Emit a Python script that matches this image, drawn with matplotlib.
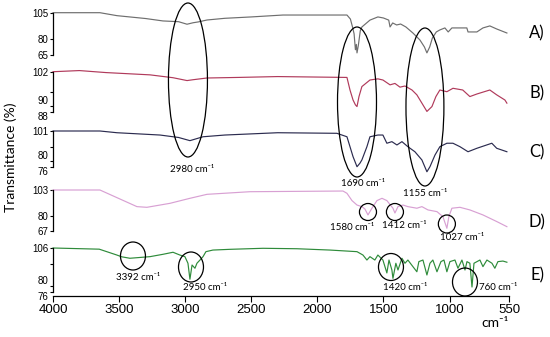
import numpy as np
import matplotlib
matplotlib.use('Agg')
import matplotlib.pyplot as plt
from matplotlib.patches import Ellipse
from matplotlib.transforms import blended_transform_factory

# spectra (wavenumber cm-1, transmittance %)
A_wn = [4000,3645,3516,3300,3168,3050,2986,2940,2900,2835, 2700,2500,2260,1776,1750,1735,1722,1712,1705,1700,
        1690,1675,1663,1602,1542,1500,1460,1450,1430,1400, 1370,1330,1277,1224,1190,1171,1150,1130,1100,1073,
        1035,1010,982,869,860,793,747,695,643,566]
A_T = [105,105,102.2,99.5,97.2,96.5,94.1,95.5,96.3,98.1, 99.7,101,102.8,102.8,99,92,85,70,75,67,
       74,88,91.5,98,101,100,98,91.5,95.3,93.4, 94.3,91.5,85.8,79.2,72.6,67,72.6,81,86.8,88.7,
       90.6,86.8,90.6,90.6,86.8,86.8,90.6,92.5,89.6,85.8]

B_wn = [4000,3800,3600,3266,3092,2986,2940,2835,2600,2300, 1776,1753,1730,1712,1700,1685,1663,1602,1542,1504,
        1450,1413,1375,1337,1284,1247,1209,1171,1133,1103, 1073,1020,974,900,846,793,695,643,581,566]
B_T = [102.1,102.5,101.8,101,100,99,99.3,99.9,100.1,100.4, 100.1,95.7,92.2,90.5,89.9,93.4,96.9,99.2,99.6,99.2,
       97.5,98,96.7,97.1,95.7,94,91.1,88.2,89.9,93.4, 95.7,95.1,96.3,95.7,93.4,94.3,95.7,94,92.2,91.1]

C_wn = [4000,3645,3516,3190,3050,2964,2865,2700,2300, 1852,1776,1753,1730,1700,1678,1663,1625,1602,1542,
        1504,1474,1436,1398,1360,1315,1262,1209,1171,1148, 1110,1073,1020,974,921,860,793,680,643,566]
C_T = [101,101,99.8,98.2,96.5,94.3,97,98.2,99.8, 99.4,97,90.1,83.2,76.2,78.6,80.9,90.1,97,98.2,
       98.2,92.5,93.6,91.3,93.6,90.1,86.6,80.9,72.7,76.2, 84.3,90.1,92.5,92.5,90.1,86.6,89,92.5,89,86.6]

D_wn = [4000,3645,3365,3290,3115,2964,2835,2510,1806,1776, 1738,1700,1663,1640,1617,1587,1549,1511,1474,1428,
        1413,1390,1352,1315,1247,1209,1163,1095,1050,1020, 1005,982,921,846,747,641,566]
D_T = [103,103,88.4,87.8,91.3,95.7,99.2,101.5,102.1,100.1, 93.7,89.8,88.4,86.3,81.1,87,93.7,95.7,93.7,87,
       82.8,88.4,89.8,88.4,87,88.4,85.5,84,79.6,69.4, 79.6,87,87.8,85.5,81.1,75.2,70.8]

E_wn = [4000,3650,3520,3480,3418,3266,3168,3092,3040,3002, 2979,2964,2948,2926,2911,2888,2865,2843,2790,2661,
        2412,2155,1905,1700,1655,1625,1602,1565,1542,1504, 1474,1458,1436,1428,1406,1390,1360,1337,1315,1277,
        1247,1232,1201,1171,1148,1126,1095,1065,1042,1020, 997,959,936,906,883,868,846,830,815,770,
        747,717,679,657,634,596,566]
E_T = [106,105.2,101.3,100,99,100.1,101.7,103.1,101.2,100.1, 95.6,84.7,94.4,92.2,95.6,97.8,100.1,103.5,104.6,105.1,
       105.8,105.5,104.6,103.5,101.2,97.8,100.1,97.8,101.2,97.8, 89,97.8,91,85.3,95.6,91,99,95.6,97.8,93.3,
       89.8,96.7,97.8,87.6,95.6,97.8,89.8,96.7,97.8,89.8, 96.7,97.8,92.2,97.8,91,96.7,95.6,79.4,95.6,97.8,
       93.3,97.8,95.6,92.2,96.7,97.1,96.3]

labels = ['A)', 'B)', 'C)', 'D)', 'E)']
colors = ['#6e6e6e', '#b03a5b', '#2b2b4f', '#d8a0d3', '#2e8b3a']
yticks = [[105, 80, 65], [102, 95, 90, 88], [101, 90, 80, 76], [103, 80, 67], [106, 95, 80, 76]]
ytick_labels = [['105', '80', '65'], ['102', '', '90', '88'], ['101', '', '80', '76'],
                ['103', '80', '67'], ['106', '', '80', '76']]
xticks = [4000, 3500, 3000, 2500, 2000, 1500, 1000, 550]

# peak annotations: label, centre wn, centre y px, width wn, height px, text wn, text y px
notes = [
    ('2980 cm⁻¹', 2979, 80, 295, 154, 2949, 169),
    ('1690 cm⁻¹', 1700, 102, 295, 150, 1655, 183),
    ('1155 cm⁻¹', 1186, 107, 287, 158, 1186, 193),
    ('1580 cm⁻¹', 1617, 212, 129, 17, 1738, 228),
    ('1412 cm⁻¹', 1413, 212, 129, 17, 1345, 226),
    ('1027 cm⁻¹', 1020, 224, 129, 18, 906, 238),
    ('3392 cm⁻¹', 3395, 256, 189, 28, 3357, 277),
    ('2950 cm⁻¹', 2956, 267, 189, 30, 2850, 287),
    ('1420 cm⁻¹', 1443, 267, 189, 27, 1337, 287),
    ('760 cm⁻¹', 883, 282, 189, 28, 634, 287),
]

W, H = 550, 337
fig = plt.figure(figsize=(5.5, 3.37), dpi=100)
tick_font = ['Liberation Sans Narrow', 'Liberation Sans', 'DejaVu Sans']
note_font = ['Lato', 'DejaVu Sans']

# panel pixel layout: top tick px, bottom tick px, right label y px
px_top = [12.7, 72, 131, 190, 248]
px_bot = [55, 112, 167, 231, 292]
lab_y = [33, 93, 152, 222, 275]
left, right = 53, 509

data = [(A_wn, A_T), (B_wn, B_T), (C_wn, C_T), (D_wn, D_T), (E_wn, E_T)]
axes = []
for i, (wn, T) in enumerate(data):
    hi, lo = yticks[i][0], yticks[i][-1]
    t, b = px_top[i], px_bot[i]
    scale = (b - t) / (hi - lo)
    b_ext = 296 if i == 4 else b
    lo_ext = lo - (b_ext - b) / scale
    ax = fig.add_axes([left / W, 1 - b_ext / H, (right - left) / W, (b_ext - t) / H])
    ax.patch.set_alpha(0)
    ax.plot(wn, T, color=colors[i], lw=0.85, clip_on=False)
    ax.set_xlim(4000, 550)
    ax.set_ylim(lo_ext, hi)
    for s in ['top', 'right']:
        ax.spines[s].set_visible(False)
    ax.spines['left'].set_bounds(lo, hi)
    ax.spines['left'].set_linewidth(0.9)
    ax.set_yticks(yticks[i])
    ax.set_yticklabels(ytick_labels[i], fontsize=7, family=tick_font)
    ax.tick_params(axis='y', direction='out', length=2.5, width=0.8, pad=1)
    # the two lowest ticks sit close together: nudge their labels apart
    tl = ax.get_yticklabels()
    if len(yticks[i]) == 4:
        tl[2].set_va('bottom')
        tl[3].set_va('top')
    if i < 4:
        ax.spines['bottom'].set_visible(False)
        ax.tick_params(axis='x', bottom=False, labelbottom=False)
    else:
        ax.spines['bottom'].set_linewidth(0.9)
        ax.set_xticks(xticks)
        ax.set_xticklabels([str(x) for x in xticks], fontsize=9.5, family=tick_font)
        ax.tick_params(axis='x', direction='out', length=4, width=0.8, pad=2)
    fig.text(537 / W, 1 - lab_y[i] / H, labels[i], fontsize=12, ha='center', va='center',
             family=note_font)
    axes.append(ax)

trans = blended_transform_factory(axes[4].transData, fig.transFigure)
for txt, cx, cy, w, h, tx, ty in notes:
    e = Ellipse((cx, 1 - cy / H), w, h / H, transform=trans, fill=False,
                ec='black', lw=0.9, clip_on=False)
    fig.add_artist(e)
    fig.text(tx, 1 - ty / H, txt, transform=trans, ha='center', va='center',
             fontsize=7, family=note_font)

fig.text(11 / W, 1 - 157 / H, 'Transmittance (%)', rotation=90, ha='center', va='center',
         fontsize=10, family=note_font)
fig.text(495 / W, 1 - 323 / H, 'cm⁻¹', ha='center', va='center', fontsize=10, family=note_font)

fig.savefig('out.png', dpi=100)
